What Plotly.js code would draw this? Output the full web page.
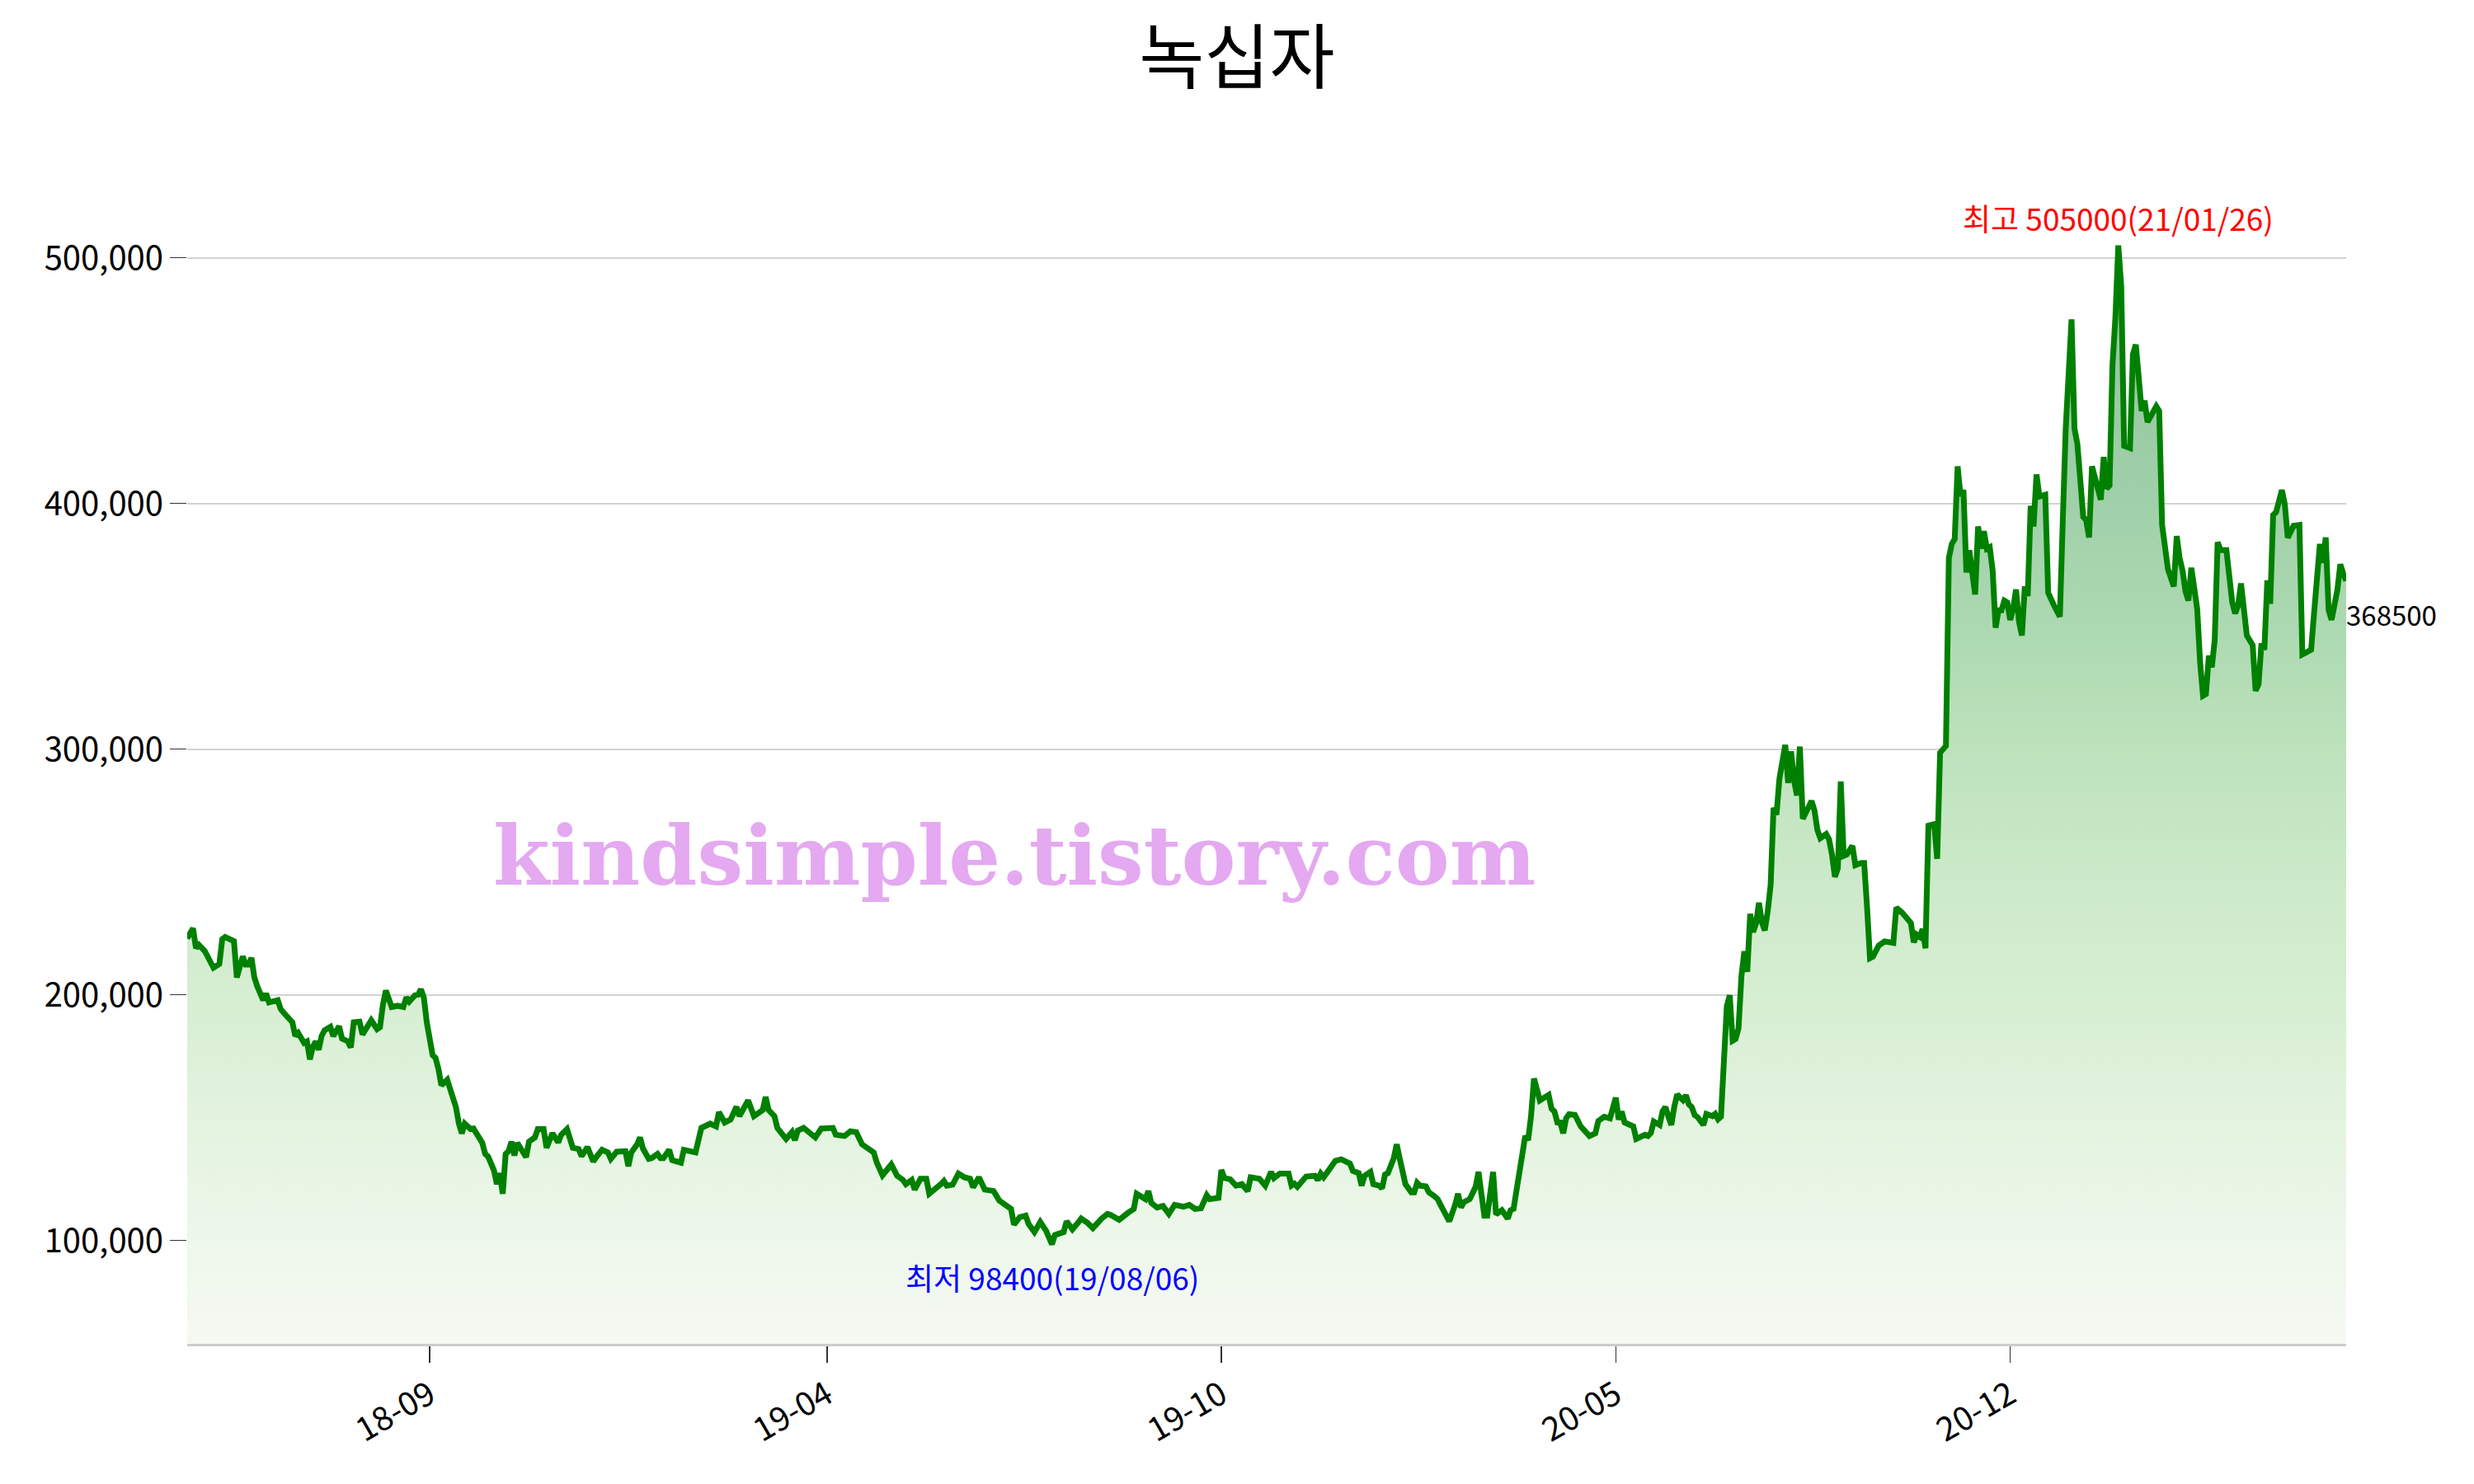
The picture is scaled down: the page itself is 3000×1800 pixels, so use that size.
<!DOCTYPE html>
<html>
<head>
<meta charset="utf-8">
<script src="https://cdn.plot.ly/plotly-3.0.1.min.js"></script>
<style>
html,body{margin:0;padding:0;background:#ffffff;}
#chart{width:3000px;height:1800px;}
</style>
</head>
<body>
<div id="chart"></div>
<script>
// ---- data (trading-day index from start of series, closing price in KRW) ----
const days = [
0,2,3,4,6,7,9,11,12,13,16,17,18,19,20,21,22,23,24,26,27,28,31,32,33,35,36,37,38,40,
41,42,43,44,45,46,47,49,50,52,53,55,56,57,59,60,62,63,65,66,67,68,70,72,74,75,76,78,79,80,
81,82,84,85,86,87,89,90,91,92,93,94,95,97,98,100,101,102,103,105,106,107,108,109,110,111,112,113,115,116,
117,119,120,122,123,124,125,127,128,130,132,134,135,137,139,140,142,144,145,147,150,151,152,154,155,156,158,159,161,162,
163,165,166,169,170,174,175,176,179,181,182,184,186,188,189,192,194,197,198,199,201,202,205,207,208,209,211,213,215,217,
220,221,222,225,227,229,231,233,235,236,238,241,242,243,245,246,248,249,251,253,254,256,258,259,260,262,264,266,268,269,
271,273,276,278,280,282,283,285,287,288,290,292,294,296,297,300,301,303,305,306,308,310,313,315,316,319,322,324,325,327,
328,329,330,332,334,336,338,341,343,345,347,349,350,353,354,355,357,359,361,363,364,367,369,371,372,374,377,378,379,380,
383,386,387,388,389,391,393,395,397,398,399,401,402,403,405,406,408,409,410,411,413,414,415,416,417,419,420,421,422,424,
425,427,428,429,432,434,435,436,437,439,441,442,444,445,447,448,450,452,453,454,456,457,458,459,460,461,463,466,467,468,
469,470,471,472,473,475,476,477,480,482,483,484,485,487,489,490,491,492,494,495,496,499,500,501,502,503,504,505,506,507,
508,509,510,512,513,514,515,516,517,519,520,522,523,524,525,527,528,529,530,531,532,533,534,535,536,537,538,539,540,541,
542,543,544,545,547,548,549,550,551,552,553,556,557,558,559,561,562,563,564,565,566,567,568,570,571,573,574,575,576,577,
579,581,584,585,587,590,591,592,593,594,595,596,598,599,600,602,603,604,605,606,607,608,609,610,611,612,613,614,615,616,
617,618,619,620,621,622,623,624,625,626,627,628,629,630,631,632,633,634,636,637,639,641,642,643,645,646,647,648,649,650,
651,652,653,655,656,657,658,659,660,661,662,663,665,666,667,668,669,670,671,674,675,676,678,680,681,682,683,684,685,686,
687,688,689,690,691,692,693,694,695,696,698,699,700,701,702,703,704,705,707,708,709,710,711,712,713,714,715,717,718,719,
721,723,724,727,728,729,730,731,732,733,734,736,737,738,739
];
const prices = [
222900,227000,219000,220300,217800,215100,211000,212500,222600,223500,221800,207000,210600,215600,212300,212300,215000,207000,203400,197800,200500,196900,197800,194200,192700,190500,188800,183200,184400,180400,
181000,173700,178800,181000,177600,183200,185500,186900,183200,187200,182100,181000,178500,188800,189000,183800,188000,189600,186000,186800,196000,201700,195000,195500,195000,198900,197200,199800,200000,202200,
198900,188800,175400,174300,169800,163100,165400,161500,159200,154200,147500,143600,147500,145300,145500,141900,139700,135200,134100,128500,122900,127400,119000,135200,136300,140200,134600,139700,136300,133900,
140200,141900,145300,145300,137700,140800,143600,139900,143000,145300,137700,137200,134300,138000,132100,133900,136900,135800,133200,136100,136300,130200,135800,139100,141900,137400,133200,133500,135200,133500,
133500,136900,132700,131600,136900,135800,141900,145800,147500,146400,152200,148000,149200,154400,150600,157000,150600,153100,158400,153100,150600,145800,141300,144100,140800,144700,145800,143600,141900,145500,
145300,145800,143000,142500,144400,144100,139100,137400,135800,131800,126500,130900,129000,126300,124600,122900,124600,120700,125100,125100,119000,120700,122900,124200,122300,122700,127200,125700,125100,121600,
125700,120700,120100,116200,114500,112800,106400,109500,110100,106700,103400,107500,103900,98400,102200,103400,107800,104500,107300,108900,107300,105000,108900,110800,110400,108400,111200,112800,119000,117100,
116800,120100,115300,113400,114000,110800,114500,113700,114500,112800,113100,118400,116800,117300,128700,125400,124900,122300,122900,120100,125700,125100,122300,127900,125400,127200,127200,122300,123100,121800,
126000,126300,124600,127200,125700,129000,132400,133000,131600,131300,128300,127400,122300,126300,127900,122900,122300,121200,126800,127400,133500,139100,133500,128500,122900,119600,119600,123500,122300,122000,
119600,117900,116800,114500,107800,114500,119000,113400,115600,116800,121800,127900,110100,110100,127900,110600,112300,108900,112300,112800,128500,134600,142500,140800,150800,165900,157000,159200,153600,152500,
148000,148000,143600,149700,151400,151100,148000,146400,142500,143600,148600,149700,150300,149700,158100,149200,152500,148000,146600,146400,141300,143000,142500,143700,148400,147600,147000,152600,154300,150400,
147000,154300,159400,157100,159100,155400,154300,151000,150200,147000,151500,150600,151500,149300,150400,195300,199800,181300,182000,186300,207600,217700,209300,232900,225600,229000,237400,229500,226200,234000,
244700,276100,273300,287900,301700,286200,299100,287300,281100,301000,271600,278900,275000,267100,263700,265400,263200,257000,248000,251400,286800,256500,257000,260600,252700,253600,253600,235700,214900,215500,
220000,221700,221100,235500,233400,229200,221300,224500,223600,226700,218900,268800,269400,255300,298500,301300,377700,383500,385500,415100,403000,405400,371900,380900,370000,362900,390600,381600,388700,381600,
382200,372600,349400,356500,356500,360400,359700,352600,357100,364900,352000,346200,366200,362300,399000,390600,411800,402800,403500,363600,358400,353900,393200,430500,474900,430500,424100,411200,394500,393200,
386100,415100,409900,401500,418900,406000,407300,456200,475500,505000,488400,423400,422500,460700,464600,452400,437600,441800,433100,439500,437600,391200,373200,366200,386700,377700,372600,364200,360400,373800,
364900,357100,335300,321700,322400,338000,333300,344300,384200,381000,381000,368100,359700,355200,358400,367400,354600,346200,342300,323700,326300,343000,340400,368700,359100,395200,396400,405400,399600,386000,
390900,391200,338500,340400,355200,371300,383500,375800,386100,356500,352600,364900,375200,371300,368500
];
const tickDays = [83, 219, 354, 489, 624];
const tickLabels = ['18-09', '19-04', '19-10', '20-05', '20-12'];
const yTicks = [100000, 200000, 300000, 400000, 500000];
const chartTitle = '녹십자';
const highDate = '21/01/26';
const lowDate = '19/08/06';
const watermarkText = 'kindsimple.tistory.com';

// ---- derived ----
const maxP = Math.max(...prices);
const minP = Math.min(...prices);
const maxI = prices.indexOf(maxP);
const minI = prices.indexOf(minP);
const lastI = prices.length - 1;
const yLow = 57900, yHigh = 532400;

const trace = {
  type: 'scatter',
  mode: 'lines',
  x: days,
  y: prices,
  line: {color: '#008000', width: 7},
  fill: 'tozeroy',
  fillgradient: {
    type: 'vertical',
    start: yLow,
    stop: maxP,
    colorscale: [
      [0.0, '#f5f9f2'],
      [0.094, '#eef7eb'],
      [0.206, '#e3f3df'],
      [0.318, '#d6eed2'],
      [0.43, '#cbe9c8'],
      [0.541, '#bde2bc'],
      [0.653, '#acd9b1'],
      [0.765, '#a0d0aa'],
      [0.877, '#98c9a3'],
      [1.0, '#90c39c']
    ]
  },
  hoverinfo: 'skip'
};

const fontKR = '"Noto Sans CJK KR", "Noto Sans", sans-serif';

const layout = {
  width: 3000,
  height: 1800,
  paper_bgcolor: '#ffffff',
  plot_bgcolor: '#ffffff',
  margin: {l: 227, r: 155, t: 216, b: 170},
  showlegend: false,
  font: {family: fontKR, color: '#000000'},
  title: {
    text: chartTitle,
    font: {family: fontKR, size: 86, color: '#000000'},
    x: 0.5, xanchor: 'center',
    y: 1 - 71 / 1800, yanchor: 'middle', yref: 'container'
  },
  xaxis: {
    range: [days[0], days[lastI]],
    tickmode: 'array',
    tickvals: tickDays,
    ticktext: tickLabels,
    tickangle: -30,
    ticks: 'outside',
    ticklen: 20,
    tickwidth: 1.5,
    tickcolor: '#333333',
    tickfont: {family: fontKR, size: 40, color: '#000000'},
    showgrid: false,
    zeroline: false,
    showline: true,
    linecolor: '#cccccc',
    linewidth: 3
  },
  yaxis: {
    range: [yLow, yHigh],
    tickmode: 'array',
    tickvals: yTicks,
    tickformat: ',d',
    ticks: 'outside',
    ticklen: 20,
    tickwidth: 1.5,
    tickcolor: '#333333',
    tickfont: {family: fontKR, size: 40, color: '#000000'},
    showgrid: true,
    gridcolor: '#d3d3d3',
    gridwidth: 2,
    zeroline: false,
    showline: false
  },
  annotations: [
    {
      x: days[maxI], y: maxP, xref: 'x', yref: 'y',
      text: '최고 ' + maxP + '(' + highDate + ')',
      showarrow: false, xanchor: 'center', yanchor: 'bottom', yshift: 5,
      font: {family: fontKR, size: 37, color: '#ff0000'}
    },
    {
      x: days[minI], y: minP, xref: 'x', yref: 'y',
      text: '최저 ' + minP + '(' + lowDate + ')',
      showarrow: false, xanchor: 'center', yanchor: 'top', yshift: -11,
      font: {family: fontKR, size: 37, color: '#0000ff'}
    },
    {
      x: days[lastI], y: prices[lastI], xref: 'x', yref: 'y',
      text: String(prices[lastI]),
      showarrow: false, xanchor: 'left', yanchor: 'middle', yshift: -41, xshift: -2,
      font: {family: fontKR, size: 33, color: '#000000'}
    },
    {
      x: 0.383, y: 0.419, xref: 'paper', yref: 'paper',
      text: watermarkText,
      showarrow: false, xanchor: 'center', yanchor: 'middle',
      font: {family: '"DejaVu Serif", serif', size: 99, color: '#e4a9f0', weight: 'bold'}
    }
  ]
};

Plotly.newPlot('chart', [trace], layout, {displayModeBar: false, staticPlot: true});
</script>
</body>
</html>
